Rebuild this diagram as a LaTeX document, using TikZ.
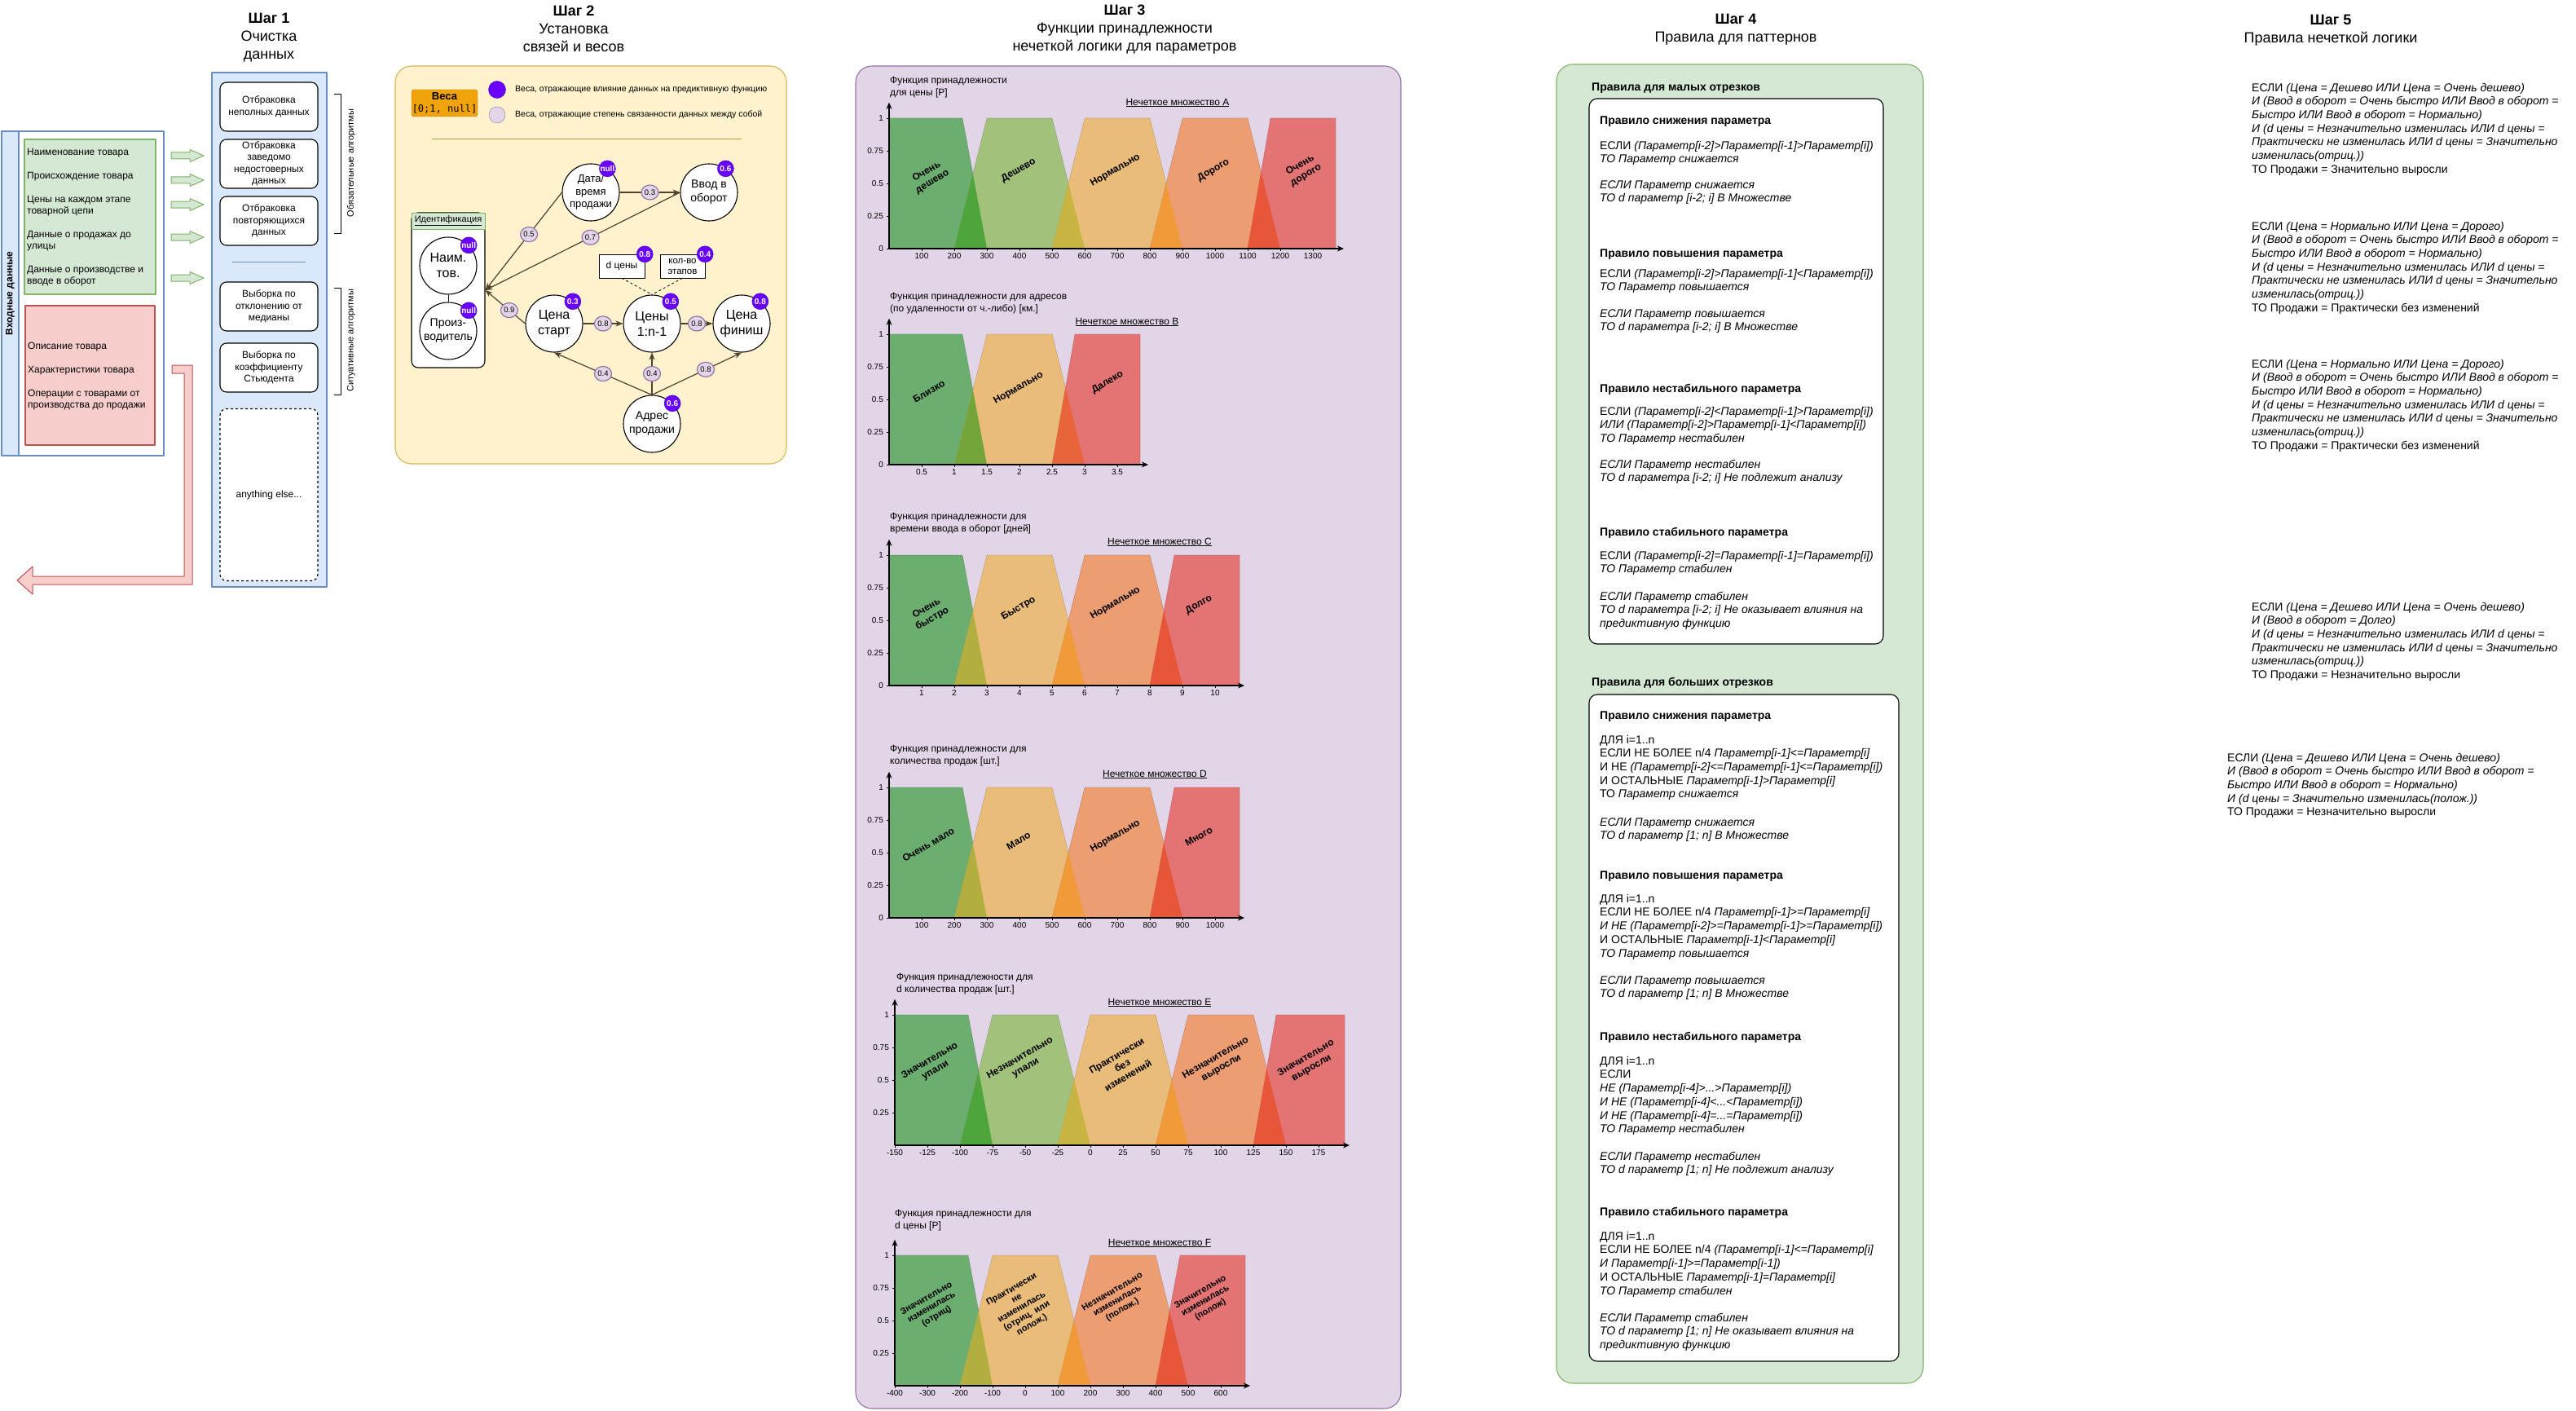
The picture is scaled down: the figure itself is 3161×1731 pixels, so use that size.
\documentclass[tikz,border=0pt]{standalone}
\usepackage{fontspec}
\setmainfont{Liberation Sans}
\setmonofont{DejaVu Sans Mono}
\usetikzlibrary{arrows.meta,shapes.geometric}

\definecolor{bluef}{HTML}{DAE8FC}\definecolor{blued}{HTML}{6C8EBF}
\definecolor{greenf}{HTML}{D5E8D4}\definecolor{greend}{HTML}{82B366}
\definecolor{redf}{HTML}{F8CECC}\definecolor{redd}{HTML}{B85450}
\definecolor{yelf}{HTML}{FFF2CC}\definecolor{yeld}{HTML}{D6B656}
\definecolor{lilf}{HTML}{E1D5E7}\definecolor{lild}{HTML}{9673A6}
\definecolor{wpurp}{HTML}{6A00FF}\definecolor{wpurpd}{HTML}{3700CC}
\definecolor{orgf}{HTML}{F0A30A}\definecolor{orgd}{HTML}{BD7000}
\definecolor{edgec}{HTML}{4F4330}
\definecolor{cG}{HTML}{6CAE70}\definecolor{cLG}{HTML}{A2C17B}
\definecolor{cO}{HTML}{E9BC79}\definecolor{cS}{HTML}{EC9D71}
\definecolor{cR}{HTML}{E47474}
\definecolor{oGLG}{HTML}{4EA53C}\definecolor{oLGO}{HTML}{C8B443}
\definecolor{oOS}{HTML}{F09A3A}\definecolor{oSR}{HTML}{E8563A}
\definecolor{oGOb}{HTML}{74A53A}\definecolor{oORb}{HTML}{E8653C}
\definecolor{oGO}{HTML}{B2AE40}

\newcommand{\fsz}[2]{\fontsize{#1}{#2}\selectfont}
% trapezoid of a fuzzy set, and the overlap of two of them
\newcommand{\fset}[5]{\fill[#1, draw=#1!70!black, draw opacity=.4, line width=.7pt] (#2,0) -- (#3,1) -- (#4,1) -- (#5,0) -- cycle;}
\newcommand{\fov}[9]{\begin{scope}\clip (#2,0) -- (#3,1) -- (#4,1) -- (#5,0) -- cycle;\fill[#1] (#6,0) -- (#7,1) -- (#8,1) -- (#9,0) -- cycle;\end{scope}}
\newcommand{\faxis}[1]{\draw[axis] (0,0) -- (0,1.12); \draw[axis] (0,0) -- (#1,0);}
\newcommand{\fylab}[1]{\foreach \yv in {#1}{\draw[tick] (0,\yv) -- ++(-3pt,0); \node[ylab] at (0,\yv) {\yv};}}

\tikzset{
  ttl/.style={anchor=north, align=center, inner sep=0pt, font=\fsz{18}{22}},
  panel/.style={rounded corners=20pt, line width=1.1pt},
  cbox/.style={draw, rounded corners=8pt, fill=white, minimum width=120pt, minimum height=60pt, align=center, inner sep=0pt, font=\fsz{12}{14.5}, line width=1.1pt},
  itxt/.style={anchor=north west, inner sep=0pt, align=left, font=\fsz{12}{14.4}},
  vtx/.style={circle, draw, fill=white, minimum size=70pt, inner sep=0pt, align=center, line width=1.1pt},
  badge/.style={circle, fill=wpurp, draw=wpurpd, minimum size=20pt, inner sep=0pt, text=white, font=\bfseries\fsz{10}{10}},
  elab/.style={ellipse, fill=lilf, draw=lild, minimum width=21pt, minimum height=18pt, inner sep=0pt, font=\fsz{9.5}{10}, text=black},
  edge/.style={-{Stealth[length=9pt,width=7pt]}, draw=edgec, line width=1.2pt},
  legt/.style={anchor=west, inner sep=0pt, font=\fsz{10.5}{12}},
  rtxt/.style={anchor=north west, inner sep=0pt, align=left, font=\fsz{14}{16.7}},
  rit/.style={rtxt, font=\itshape\fsz{14}{16.7}},
  rhead/.style={anchor=north west, inner sep=0pt, font=\bfseries\fsz{14}{16.7}},
  axis/.style={-{Stealth[length=8pt,width=7pt]}, line width=1.2pt},
  tick/.style={line width=.8pt},
  xlab/.style={anchor=north, yshift=-5pt, inner sep=0pt, font=\fsz{10}{12}},
  ylab/.style={anchor=east, xshift=-7pt, inner sep=0pt, font=\fsz{10}{12}},
  flab/.style={rotate=30, align=center, inner sep=0pt, font=\bfseries\fsz{12}{14}},
  flabs/.style={flab, font=\bfseries\fsz{11}{12.5}},
  ftitle/.style={anchor=north west, inner sep=0pt, align=left, font=\fsz{12}{15}},
  fsetl/.style={inner sep=0pt, font=\fsz{12}{14}}
}

\begin{document}
\begin{tikzpicture}[x=1pt, y=-1pt, line join=round]
\fill[white] (0,0) rectangle (3161,1731);
\useasboundingbox (0,0) rectangle (3161,1731);

% step 1
\node[ttl] (t1) at (330,13.1) {\textbf{\strut Шаг 1}\\Очистка\\данных};
\draw[fill=bluef, draw=blued, line width=1.1pt] (260,89) rectangle (401,720);
\node[cbox] (c1) at (330,131) {Отбраковка\\неполных данных};
\node[cbox] (c2) at (330,201) {Отбраковка\\заведомо\\недостоверных\\данных};
\node[cbox] (c3) at (330,271) {Отбраковка\\повторяющихся\\данных};
\draw[blued, line width=.8pt] (285,321) -- (375,321);
\node[cbox] (c4) at (330,376) {Выборка по\\отклонению от\\медианы};
\node[cbox] (c5) at (330,451) {Выборка по\\коэффициенту\\Стьюдента};
\node[cbox, dashed, minimum height=211pt] (c6) at (330,607) {anything else...};
\draw[line width=.9pt] (410,115) -- (418,115) -- (418,286) -- (410,286);
\draw[line width=.9pt] (410,353) -- (418,353) -- (418,484) -- (410,484);
\node[rotate=90, inner sep=0pt, font=\fsz{11}{13}] (alg1) at (431,200) {Обязательные алгоритмы};
\node[rotate=90, inner sep=0pt, font=\fsz{11}{13}] (alg2) at (431,418) {Ситуативные алгоритмы};

\draw[blued, fill=white, line width=1.1pt] (2,161) rectangle (201,559);
\draw[blued, fill=bluef, line width=1.1pt] (2,161) rectangle (23,559);
\node[rotate=90, inner sep=0pt, font=\bfseries\fsz{12}{14}] (inp) at (12.5,360) {Входные данные};
\draw[greend, fill=greenf, line width=1.1pt] (30,171) rectangle (191,361);
\node[itxt] (ing) at (33,180.2) {\strut Наименование товара\\[14.4pt]Происхождение товара\\[14.4pt]Цены на каждом этапе\\товарной цепи\\[14.4pt]Данные о продажах до\\улицы\\[14.4pt]Данные о производстве и\\вводе в оборот};
\draw[redd, fill=redf, line width=1.1pt] (31,375) rectangle (190,546);
\node[itxt] (inr) at (34,418.2) {\strut Описание товара\\[14.4pt]Характеристики товара\\[14.4pt]Операции с товарами от\\производства до продажи};
\foreach \ya in {191,221,251,291,341}
  \draw[greend, fill=greenf, line width=1pt] (210,\ya-4) -- (233,\ya-4) -- (233,\ya-7.5) -- (250,\ya) -- (233,\ya+7.5) -- (233,\ya+4) -- (210,\ya+4) -- cycle;
\draw[redd, fill=redf, line width=1pt] (211,448) -- (236,448) -- (236,717) -- (40,717) -- (40,729) -- (21,712) -- (40,695) -- (40,707) -- (226,707) -- (226,458) -- (211,458) -- cycle;

% step 2
\node[ttl] (t2) at (704,4.1) {\textbf{\strut Шаг 2}\\Установка\\связей и весов};
\draw[panel, fill=yelf, draw=yeld] (485,81) rectangle (965,569);
\node[fill=orgf, draw=orgd, rounded corners=3pt, minimum width=81pt, minimum height=33pt, inner sep=0pt, align=center, font=\fsz{13}{15}] (wt) at (545.5,126.5) {\textbf{Веса}\\{\ttfamily\fsz{12}{15}[0;1, null]}};
\node[circle, minimum size=21pt, fill=wpurp, draw=wpurpd] (lg1) at (610,110) {};
\node[legt] (lt1) at (632,110) {Веса, отражающие влияние данных на предиктивную функцию};
\node[circle, minimum size=20pt, fill=lilf, draw=lild] (lg2) at (610,141) {};
\node[legt] (lt2) at (632,141) {Веса, отражающие степень связанности данных между собой};
\draw[yeld!85!black, line width=.8pt] (530,170) -- (910,170);

\node[draw, rounded corners=8pt, fill=white, minimum width=90pt, minimum height=190pt, line width=1.1pt] (id) at (550,356) {};
\node[fill=greenf, draw=greend, minimum width=90pt, minimum height=20pt, inner sep=0pt, font=\fsz{11}{13}] (idh) at (550,271) {\underline{Идентификация}};
\node[vtx, font=\fsz{16}{19}] (nt) at (550,326) {Наим.\\тов.};
\node[vtx, font=\fsz{14}{17}] (pr) at (550,406) {Произ-\\водитель};
\node[vtx, font=\fsz{13}{15.5}] (dt) at (725,236) {Дата/\\время\\продажи};
\node[vtx, font=\fsz{14}{17}] (vo) at (870,236) {Ввод в\\оборот};
\node[vtx, font=\fsz{16}{19}] (ps) at (680,397) {Цена\\старт};
\node[vtx, font=\fsz{16}{19}] (pn) at (800,397) {Цены\\1:n-1};
\node[vtx, font=\fsz{16}{19}] (pf) at (910,397) {Цена\\финиш};
\node[vtx, font=\fsz{14}{17}] (ad) at (800,520) {Адрес\\продажи};
\node[draw, fill=white, minimum width=56pt, minimum height=29pt, inner sep=0pt, font=\fsz{12}{14}] (dc) at (763,326.5) {d цены};
\node[draw, fill=white, minimum width=55pt, minimum height=29pt, inner sep=0pt, align=center, font=\fsz{11.5}{13}] (kv) at (837.5,326.5) {кол-во\\этапов};
\draw (nt) -- (pr);
\draw[dashed, line width=.8pt] (dc.south) -- (pn.north);
\draw[dashed, line width=.8pt] (kv.south) -- (pn.north);
\draw[edge] (dt.west) -- node[elab, pos=.43] {0.5} (id.east);
\draw[edge] (vo.west) -- node[elab, pos=.46] {0.7} (id.east);
\draw[edge] (dt) -- node[elab] {0.3} (vo);
\draw[edge] (ps.west) -- node[elab, pos=.4] {0.9} (id.east);
\draw[edge] (ps) -- node[elab] {0.8} (pn);
\draw[edge] (pn) -- node[elab] {0.8} (pf);
\draw[edge] (ad.north) -- node[elab] {0.4} (ps.south);
\draw[edge] (ad.north) -- node[elab] {0.4} (pn.south);
\draw[edge] (ad.north) -- node[elab, pos=.6] {0.8} (pf.south);
\node[badge] (bnt) at (nt.45) {null};
\node[badge] (bpr) at (pr.45) {null};
\node[badge] (bdt) at (dt.55) {null};
\node[badge] (bvo) at (vo.55) {0.6};
\node[badge] (bps) at (ps.50) {0.3};
\node[badge] (bpn) at (pn.50) {0.5};
\node[badge] (bpf) at (pf.50) {0.8};
\node[badge] (bad) at (ad.45) {0.6};
\node[badge] (bdc) at (dc.north east) {0.8};
\node[badge] (bkv) at (kv.north east) {0.4};

% step 3
\node[ttl] (t3) at (1380,3.1) {\textbf{\strut Шаг 3}\\Функции принадлежности\\нечеткой логики для параметров};
\draw[panel, fill=lilf, draw=lild] (1050,81) rectangle (1719,1728);

% A
\node[ftitle] (fa) at (1092,91.8) {\strut Функция принадлежности\\для цены [Р]};
\node[fsetl] (sa) at (1445,126) {\underline{Нечеткое множество A}};
\begin{scope}[shift={(1091,305)}, x=40pt, y=160pt]
  \fset{cG}{0}{0}{2.25}{3} \fset{cLG}{2}{3}{5}{6} \fset{cO}{5}{6}{8}{9}
  \fset{cS}{8}{9}{11}{12} \fset{cR}{11}{11.7}{13.7}{13.7}
  \fov{oGLG}{0}{0}{2.25}{3}{2}{3}{5}{6}
  \fov{oLGO}{2}{3}{5}{6}{5}{6}{8}{9}
  \fov{oOS}{5}{6}{8}{9}{8}{9}{11}{12}
  \fov{oSR}{8}{9}{11}{12}{11}{11.7}{13.7}{13.7}
  \node[flab] (la1) at (1.24,.55) {Очень\\дешево};
  \node[flab] (la2) at (3.97,.6) {Дешево};
  \node[flab] (la3) at (6.94,.6) {Нормально};
  \node[flab] (la4) at (9.95,.6) {Дорого};
  \node[flab] (la5) at (12.7,.6) {Очень\\дорого};
  \faxis{13.95}
  \fylab{1,0.75,0.5,0.25,0}
  \foreach \i in {1,...,13}{\pgfmathtruncatemacro\lb{100*\i}\draw[tick] (\i,0) -- ++(0,-3pt); \node[xlab] (xa\i) at (\i,0) {\lb};}
\end{scope}

% B
\node[ftitle] (fb) at (1092,356.8) {\strut Функция принадлежности для адресов\\(по удаленности от ч.-либо) [км.]};
\node[fsetl] (sb) at (1383,395) {\underline{Нечеткое множество B}};
\begin{scope}[shift={(1091,570)}, x=40pt, y=160pt]
  \fset{cG}{0}{0}{2.25}{3} \fset{cO}{2}{3}{5}{6} \fset{cR}{5}{5.7}{7.7}{7.7}
  \fov{oGOb}{0}{0}{2.25}{3}{2}{3}{5}{6}
  \fov{oORb}{2}{3}{5}{6}{5}{5.7}{7.7}{7.7}
  \node[flab] (lb1) at (1.22,.56) {Близко};
  \node[flab] (lb2) at (3.97,.585) {Нормально};
  \node[flab] (lb3) at (6.7,.63) {Далеко};
  \faxis{7.95}
  \fylab{1,0.75,0.5,0.25,0}
  \foreach \i/\lb in {1/0.5,2/1,3/1.5,4/2,5/2.5,6/3,7/3.5}{\draw[tick] (\i,0) -- ++(0,-3pt); \node[xlab] (xb\i) at (\i,0) {\lb};}
\end{scope}

% C
\node[ftitle] (fc) at (1092,626.8) {\strut Функция принадлежности для\\времени ввода в оборот [дней]};
\node[fsetl] (sc) at (1423,665) {\underline{Нечеткое множество C}};
\begin{scope}[shift={(1091,841)}, x=40pt, y=160pt]
  \fset{cG}{0}{0}{2.25}{3} \fset{cO}{2}{3}{5}{6} \fset{cS}{5}{6}{8}{9} \fset{cR}{8}{8.75}{10.75}{10.75}
  \fov{oGO}{0}{0}{2.25}{3}{2}{3}{5}{6}
  \fov{oOS}{2}{3}{5}{6}{5}{6}{8}{9}
  \fov{oSR}{5}{6}{8}{9}{8}{8.75}{10.75}{10.75}
  \node[flab] (lc1) at (1.24,.55) {Очень\\быстро};
  \node[flab] (lc2) at (3.97,.59) {Быстро};
  \node[flab] (lc3) at (6.94,.63) {Нормально};
  \node[flab] (lc4) at (9.5,.62) {Долго};
  \faxis{10.9}
  \fylab{1,0.75,0.5,0.25,0}
  \foreach \i in {1,...,10}{\draw[tick] (\i,0) -- ++(0,-3pt); \node[xlab] (xc\i) at (\i,0) {\i};}
\end{scope}

% D
\node[ftitle] (fd) at (1092,911.8) {\strut Функция принадлежности для\\количества продаж [шт.]};
\node[fsetl] (sd) at (1417,950) {\underline{Нечеткое множество D}};
\begin{scope}[shift={(1091,1126)}, x=40pt, y=160pt]
  \fset{cG}{0}{0}{2.25}{3} \fset{cO}{2}{3}{5}{6} \fset{cS}{5}{6}{8}{9} \fset{cR}{8}{8.75}{10.75}{10.75}
  \fov{oGO}{0}{0}{2.25}{3}{2}{3}{5}{6}
  \fov{oOS}{2}{3}{5}{6}{5}{6}{8}{9}
  \fov{oSR}{5}{6}{8}{9}{8}{8.75}{10.75}{10.75}
  \node[flab] (ld1) at (1.2,.56) {Очень мало};
  \node[flab] (ld2) at (3.97,.59) {Мало};
  \node[flab] (ld3) at (6.94,.625) {Нормально};
  \node[flab] (ld4) at (9.5,.625) {Много};
  \faxis{10.9}
  \fylab{1,0.75,0.5,0.25,0}
  \foreach \i in {1,...,10}{\pgfmathtruncatemacro\lb{100*\i}\draw[tick] (\i,0) -- ++(0,-3pt); \node[xlab] (xd\i) at (\i,0) {\lb};}
\end{scope}

% E
\node[ftitle] (fe) at (1100,1191.8) {\strut Функция принадлежности для\\d количества продаж [шт.]};
\node[fsetl] (se) at (1423,1230) {\underline{Нечеткое множество E}};
\begin{scope}[shift={(1098,1405)}, x=40pt, y=160pt]
  \fset{cG}{0}{0}{2.25}{3} \fset{cLG}{2}{3}{5}{6} \fset{cO}{5}{6}{8}{9}
  \fset{cS}{8}{9}{11}{12} \fset{cR}{11}{11.7}{13.8}{13.8}
  \fov{oGLG}{0}{0}{2.25}{3}{2}{3}{5}{6}
  \fov{oLGO}{2}{3}{5}{6}{5}{6}{8}{9}
  \fov{oOS}{5}{6}{8}{9}{8}{9}{11}{12}
  \fov{oSR}{8}{9}{11}{12}{11}{11.7}{13.8}{13.8}
  \node[flab] (le1) at (1.16,.61) {Значительно\\упали};
  \node[flab] (le2) at (3.93,.63) {Незначительно\\упали};
  \node[flab] (le3) at (6.98,.61) {Практически\\без\\изменений};
  \node[flab] (le4) at (9.93,.63) {Незначительно\\выросли};
  \node[flab] (le5) at (12.7,.63) {Значительно\\выросли};
  \faxis{13.95}
  \fylab{1,0.75,0.5,0.25}
  \foreach \i in {0,...,13}{\pgfmathtruncatemacro\lb{25*\i-150}\draw[tick] (\i,0) -- ++(0,-3pt); \node[xlab] (xe\i) at (\i,0) {\lb};}
\end{scope}

% F
\node[ftitle] (ff) at (1098,1481.8) {\strut Функция принадлежности для\\d цены [Р]};
\node[fsetl] (sf) at (1423,1525) {\underline{Нечеткое множество F}};
\begin{scope}[shift={(1098,1700)}, x=40pt, y=160pt]
  \fset{cG}{0}{0}{2.25}{3} \fset{cO}{2}{3}{5}{6} \fset{cS}{5}{6}{8}{9} \fset{cR}{8}{8.75}{10.75}{10.75}
  \fov{oGO}{0}{0}{2.25}{3}{2}{3}{5}{6}
  \fov{oOS}{2}{3}{5}{6}{5}{6}{8}{9}
  \fov{oSR}{5}{6}{8}{9}{8}{8.75}{10.75}{10.75}
  \node[flabs] (lf1) at (1.13,.6) {Значительно\\изменилась\\(отриц)};
  \node[flabs] (lf2) at (3.9,.6) {Практически\\не\\изменилась\\(отриц. или\\полож.)};
  \node[flabs] (lf3) at (6.83,.65) {Незначительно\\изменилась\\(полож.)};
  \node[flabs] (lf4) at (9.53,.65) {Значительно\\изменилась\\(полож)};
  \faxis{10.9}
  \fylab{1,0.75,0.5,0.25}
  \foreach \i in {0,...,10}{\pgfmathtruncatemacro\lb{100*\i-400}\draw[tick] (\i,0) -- ++(0,-3pt); \node[xlab] (xf\i) at (\i,0) {\lb};}
\end{scope}

% step 4
\node[ttl] (t4) at (2130,14.1) {\textbf{\strut Шаг 4}\\Правила для паттернов};
\draw[panel, fill=greenf, draw=greend] (1910,79) rectangle (2360,1697);
\node[rhead] (sm) at (1953,99.3) {\strut Правила для малых отрезков};
\draw[fill=white, rounded corners=10pt, line width=1.1pt] (1950,121) rectangle (2311,790);
\node[rhead] (sm1) at (1963,140.3) {\strut Правило снижения параметра};
\node[rtxt] (sm1a) at (1963,171.3) {\strut ЕСЛИ \textit{(Параметр[i-2]>Параметр[i-1]>Параметр[i])}\\\textit{ТО Параметр снижается}};
\node[rit] (sm1b) at (1963,219.3) {\strut ЕСЛИ Параметр снижается\\ТО d параметр [i-2; i] В Множестве};
\node[rhead] (sm2) at (1963,303.3) {\strut Правило повышения параметра};
\node[rtxt] (sm2a) at (1963,328.3) {\strut ЕСЛИ \textit{(Параметр[i-2]>Параметр[i-1]<Параметр[i])}\\\textit{ТО Параметр повышается}};
\node[rit] (sm2b) at (1963,377.3) {\strut ЕСЛИ Параметр повышается\\ТО d параметра [i-2; i] В Множестве};
\node[rhead] (sm3) at (1963,469.3) {\strut Правило нестабильного параметра};
\node[rtxt] (sm3a) at (1963,497.3) {\strut ЕСЛИ \textit{(Параметр[i-2]<Параметр[i-1]>Параметр[i])}\\\textit{ИЛИ (Параметр[i-2]>Параметр[i-1]<Параметр[i])}\\\textit{ТО Параметр нестабилен}};
\node[rit] (sm3b) at (1963,562.3) {\strut ЕСЛИ Параметр нестабилен\\ТО d параметра [i-2; i] Не подлежит анализу};
\node[rhead] (sm4) at (1963,645.3) {\strut Правило стабильного параметра};
\node[rtxt] (sm4a) at (1963,674.3) {\strut ЕСЛИ \textit{(Параметр[i-2]=Параметр[i-1]=Параметр[i])}\\\textit{ТО Параметр стабилен}};
\node[rit] (sm4b) at (1963,724.3) {\strut ЕСЛИ Параметр стабилен\\ТО d параметра [i-2; i] Не оказывает влияния на\\предиктивную функцию};

\node[rhead] (bg) at (1953,829.3) {\strut Правила для больших отрезков};
\draw[fill=white, rounded corners=10pt, line width=1.1pt] (1950,852) rectangle (2330,1670);
\node[rhead] (bg1) at (1963,870.3) {\strut Правило снижения параметра};
\node[rtxt] (bg1a) at (1963,900.3) {\strut ДЛЯ i=1..n\\ЕСЛИ НЕ БОЛЕЕ n/4 \textit{Параметр[i-1]<=Параметр[i]}\\И НЕ \textit{(Параметр[i-2]<=Параметр[i-1]<=Параметр[i])}\\И ОСТАЛЬНЫЕ \textit{Параметр[i-1]>Параметр[i]}\\ТО \textit{Параметр снижается}};
\node[rit] (bg1b) at (1963,1001.3) {\strut ЕСЛИ Параметр снижается\\ТО d параметр [1; n] В Множестве};
\node[rhead] (bg2) at (1963,1066.3) {\strut Правило повышения параметра};
\node[rtxt] (bg2a) at (1963,1095.3) {\strut ДЛЯ i=1..n\\ЕСЛИ НЕ БОЛЕЕ n/4 \textit{Параметр[i-1]>=Параметр[i]}\\\textit{И НЕ (Параметр[i-2]>=Параметр[i-1]>=Параметр[i])}\\И ОСТАЛЬНЫЕ \textit{Параметр[i-1]<Параметр[i]}\\\textit{ТО Параметр повышается}};
\node[rit] (bg2b) at (1963,1195.3) {\strut ЕСЛИ Параметр повышается\\ТО d параметр [1; n] В Множестве};
\node[rhead] (bg3) at (1963,1264.3) {\strut Правило нестабильного параметра};
\node[rtxt] (bg3a) at (1963,1294.3) {\strut ДЛЯ i=1..n\\ЕСЛИ\\\textit{НЕ (Параметр[i-4]>...>Параметр[i])}\\\textit{И НЕ (Параметр[i-4]<...<Параметр[i])}\\\textit{И НЕ (Параметр[i-4]=...=Параметр[i])}\\\textit{ТО Параметр нестабилен}};
\node[rit] (bg3b) at (1963,1411.3) {\strut ЕСЛИ Параметр нестабилен\\ТО d параметр [1; n] Не подлежит анализу};
\node[rhead] (bg4) at (1963,1479.3) {\strut Правило стабильного параметра};
\node[rtxt] (bg4a) at (1963,1509.3) {\strut ДЛЯ i=1..n\\ЕСЛИ НЕ БОЛЕЕ n/4 \textit{(Параметр[i-1]<=Параметр[i]}\\\textit{И Параметр[i-1]>=Параметр[i-1])}\\И ОСТАЛЬНЫЕ \textit{Параметр[i-1]=Параметр[i]}\\\textit{ТО Параметр стабилен}};
\node[rit] (bg4b) at (1963,1609.3) {\strut ЕСЛИ Параметр стабилен\\ТО d параметр [1; n] Не оказывает влияния на\\предиктивную функцию};

% step 5
\node[ttl] (t5) at (2860,15.1) {\textbf{\strut Шаг 5}\\Правила нечеткой логики};
\node[rtxt] (r1) at (2763,100.3) {\strut ЕСЛИ \textit{(Цена = Дешево ИЛИ Цена = Очень дешево)}\\\textit{И (Ввод в оборот = Очень быстро ИЛИ Ввод в оборот =}\\\textit{Быстро ИЛИ Ввод в оборот = Нормально)}\\\textit{И (d цены = Незначительно изменилась ИЛИ d цены =}\\\textit{Практически не изменилась ИЛИ d цены = Значительно}\\\textit{изменилась(отриц.))}\\ТО Продажи = Значительно выросли};
\node[rtxt] (r2) at (2763,270.3) {\strut ЕСЛИ \textit{(Цена = Нормально ИЛИ Цена = Дорого)}\\\textit{И (Ввод в оборот = Очень быстро ИЛИ Ввод в оборот =}\\\textit{Быстро ИЛИ Ввод в оборот = Нормально)}\\\textit{И (d цены = Незначительно изменилась ИЛИ d цены =}\\\textit{Практически не изменилась ИЛИ d цены = Значительно}\\\textit{изменилась(отриц.))}\\ТО Продажи = Практически без изменений};
\node[rtxt] (r3) at (2763,439.3) {\strut ЕСЛИ \textit{(Цена = Нормально ИЛИ Цена = Дорого)}\\\textit{И (Ввод в оборот = Очень быстро ИЛИ Ввод в оборот =}\\\textit{Быстро ИЛИ Ввод в оборот = Нормально)}\\\textit{И (d цены = Незначительно изменилась ИЛИ d цены =}\\\textit{Практически не изменилась ИЛИ d цены = Значительно}\\\textit{изменилась(отриц.))}\\ТО Продажи = Практически без изменений};
\node[rtxt] (r4) at (2763,737.3) {\strut ЕСЛИ \textit{(Цена = Дешево ИЛИ Цена = Очень дешево)}\\\textit{И (Ввод в оборот = Долго)}\\\textit{И (d цены = Незначительно изменилась ИЛИ d цены =}\\\textit{Практически не изменилась ИЛИ d цены = Значительно}\\\textit{изменилась(отриц.))}\\ТО Продажи = Незначительно выросли};
\node[rtxt] (r5) at (2733,922.3) {\strut ЕСЛИ \textit{(Цена = Дешево ИЛИ Цена = Очень дешево)}\\\textit{И (Ввод в оборот = Очень быстро ИЛИ Ввод в оборот =}\\\textit{Быстро ИЛИ Ввод в оборот = Нормально)}\\\textit{И (d цены = Значительно изменилась(полож.))}\\ТО Продажи = Незначительно выросли};
\end{tikzpicture}
\end{document}
